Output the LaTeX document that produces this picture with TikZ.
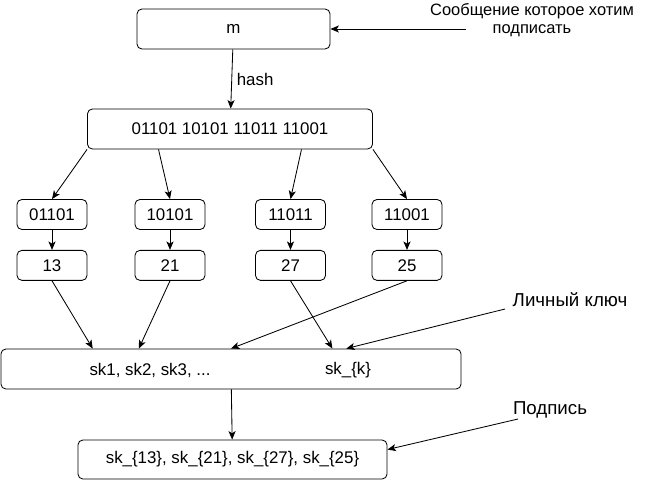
\documentclass[tikz,border=0pt]{standalone}
\usepackage{fontspec}
\setmainfont{Liberation Sans}
\usetikzlibrary{positioning,calc,arrows.meta}
\tikzset{%
  block/.style={draw, rectangle, rounded corners=3.5pt, line width=0.6pt},% rounded box
  bitcell/.style={block, minimum width=1.75cm, minimum height=0.75cm},% small cell
  note/.style={align=center, font=\fontsize{13.3}{14}\selectfont},% side comment
  link/.style={line width=0.6pt, -{Stealth[length=6pt, width=5pt, inset=1.5pt]}}% arrow
}

\begin{document}
\begin{tikzpicture}[x=0.025cm, y=-0.025cm, font=\fontsize{12}{14}\selectfont]
\useasboundingbox (0, 0) rectangle (656, 480);

\node[block, minimum width=4.825cm, minimum height=1cm] (m) at (233.5, 29) {m};
\node[block, minimum width=7.125cm, minimum height=1cm] (digest) at (230, 129) {01101 10101 11011 11001};

\node[bitcell] (b1) at (52, 214.5) {01101};
\node[bitcell] (b2) at (170, 214.5) {10101};
\node[bitcell] (b3) at (290.5, 214.5) {11011};
\node[bitcell] (b4) at (407, 214.5) {11001};

\node[bitcell, below=0.5cm of b1] (n1) {13};
\node[bitcell, below=0.5cm of b2] (n2) {21};
\node[bitcell, below=0.5cm of b3] (n3) {27};
\node[bitcell, below=0.5cm of b4] (n4) {25};

\node[block, minimum width=11.5cm, minimum height=1cm] (keys) at (231, 369) {};
\node (sks) at (150, 370) {sk1, sk2, sk3, ...};
\node (skk) at (348, 370) {sk\_\{k\}};

\node[block, minimum width=7.725cm, minimum height=0.975cm] (sig) at (232.5, 459.5) {sk\_\{13\}, sk\_\{21\}, sk\_\{27\}, sk\_\{25\}};

\node[note, font=\fontsize{11.7}{13}\selectfont] (msg) at (532, 20) {Сообщение которое хотим\\подписать};
\node[note] (priv) at (570, 300) {Личный ключ};
\node[note] (sign) at (550, 410) {Подпись};
\coordinate (msgtip) at (466, 29);
\coordinate (privtip) at (505, 309);
\coordinate (signtip) at (518, 419);

\draw[link] (m) -- node[right] {hash} (digest);
\draw[link] (digest.south west) -- (b1.north);
\draw[link] ($(digest.south west)!0.25!(digest.south east)$) -- (b2.north);
\draw[link] ($(digest.south west)!0.75!(digest.south east)$) -- (b3.north);
\draw[link] (digest.south east) -- (b4.north);

\draw[link] (b1) -- (n1);
\draw[link] (b2) -- (n2);
\draw[link] (b3) -- (n3);
\draw[link] (b4) -- (n4);

\draw[link] (n1.south) -- ($(keys.north west)!0.2!(keys.north east)$);
\draw[link] (n2.south) -- ($(keys.north west)!0.3!(keys.north east)$);
\draw[link] (n3.south) -- ($(keys.north west)!0.72!(keys.north east)$);
\draw[link] (n4.south) -- (keys.north);
\draw[link] (keys) -- (sig);

\draw[link] (msgtip) -- (m.east);
\draw[link] (privtip) -- ($(keys.north west)!0.75!(keys.north east)$);
\draw[link] (signtip) -- ($(sig.north east)!0.25!(sig.south east)$);

\end{tikzpicture}
\end{document}
